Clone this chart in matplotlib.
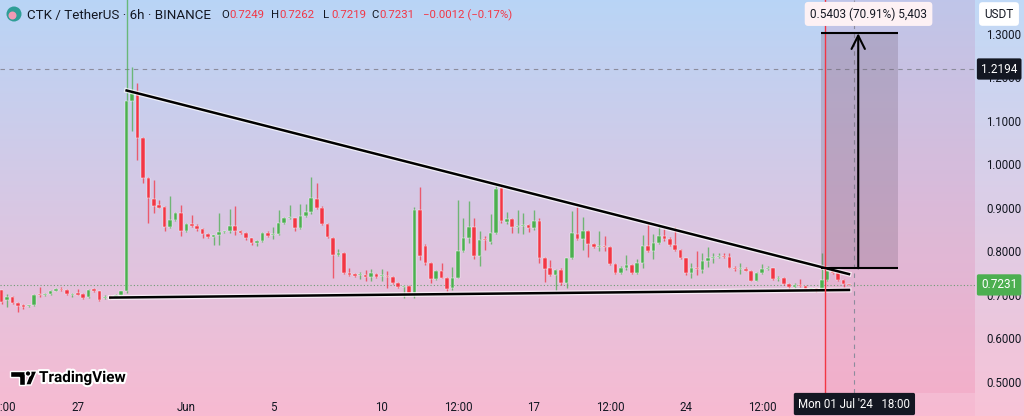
import numpy as np
import matplotlib
matplotlib.use("Agg")
import matplotlib.pyplot as plt
import matplotlib.patheffects as pe
from matplotlib.patches import Rectangle, Ellipse, Polygon
from matplotlib.transforms import blended_transform_factory

plt.rcParams['font.family'] = ['Roboto', 'DejaVu Sans']

# ========================
# 数据 (CTK/USDT 6h, 2024-05-23 12:00 起)
# ========================
opens = [
    0.711, 0.688, 0.696, 0.681, 0.678, 0.674, 0.676, 0.702, 0.700, 0.703,
    0.710, 0.714, 0.711, 0.700, 0.703, 0.702, 0.696, 0.713, 0.708, 0.693,
    0.697, 0.693, 0.701, 0.708, 1.145, 1.164, 1.060, 0.970, 0.921, 0.906,
    0.902, 0.857, 0.872, 0.888, 0.846, 0.863, 0.859, 0.852, 0.840, 0.833,
    0.837, 0.845, 0.846, 0.859, 0.848, 0.842, 0.830, 0.819, 0.825, 0.843,
    0.838, 0.840, 0.865, 0.876, 0.876, 0.853, 0.882, 0.890, 0.921, 0.901,
    0.863, 0.830, 0.792, 0.796, 0.751, 0.748, 0.745, 0.746, 0.742, 0.748,
    0.743, 0.744, 0.741, 0.727, 0.718, 0.721, 0.704, 0.895, 0.812, 0.774,
    0.736, 0.756, 0.740, 0.715, 0.740, 0.801, 0.830, 0.857, 0.790, 0.827,
    0.821, 0.842, 0.945, 0.868, 0.874, 0.857, 0.858, 0.861, 0.853, 0.871,
    0.784, 0.761, 0.746, 0.757, 0.727, 0.784, 0.840, 0.829, 0.848, 0.817,
    0.811, 0.813, 0.810, 0.771, 0.751, 0.763, 0.769, 0.751, 0.773, 0.813,
    0.802, 0.820, 0.836, 0.829, 0.815, 0.803, 0.784, 0.750, 0.762, 0.757,
    0.777, 0.784, 0.787, 0.790, 0.787, 0.763, 0.759, 0.759, 0.756, 0.733,
    0.750, 0.759, 0.761, 0.736, 0.738, 0.725, 0.719, 0.722, 0.721, 0.713,
    0.715, 0.710, 0.734, 0.754, 0.751, 0.734, 0.7249,
]
highs = [
    0.712, 0.703, 0.698, 0.684, 0.680, 0.678, 0.702, 0.719, 0.705, 0.712,
    0.715, 0.719, 0.713, 0.705, 0.714, 0.704, 0.714, 0.716, 0.710, 0.700,
    0.699, 0.703, 0.710, 1.400, 1.224, 1.188, 1.062, 0.972, 0.964, 0.918,
    0.905, 0.928, 0.890, 0.906, 0.865, 0.884, 0.862, 0.855, 0.842, 0.839,
    0.889, 0.848, 0.897, 0.905, 0.850, 0.844, 0.832, 0.827, 0.844, 0.846,
    0.857, 0.895, 0.879, 0.907, 0.878, 0.910, 0.910, 0.972, 0.957, 0.905,
    0.866, 0.833, 0.806, 0.798, 0.763, 0.750, 0.753, 0.757, 0.759, 0.751,
    0.759, 0.754, 0.743, 0.729, 0.723, 0.723, 0.903, 0.949, 0.818, 0.776,
    0.758, 0.774, 0.742, 0.764, 0.918, 0.876, 0.916, 0.876, 0.848, 0.836,
    0.886, 0.953, 0.950, 0.890, 0.877, 0.895, 0.888, 0.864, 0.895, 0.876,
    0.787, 0.780, 0.760, 0.763, 0.786, 0.892, 0.903, 0.880, 0.850, 0.819,
    0.846, 0.836, 0.812, 0.773, 0.766, 0.792, 0.771, 0.782, 0.838, 0.866,
    0.840, 0.859, 0.851, 0.834, 0.857, 0.806, 0.786, 0.773, 0.800, 0.796,
    0.811, 0.796, 0.797, 0.796, 0.796, 0.767, 0.773, 0.765, 0.758, 0.752,
    0.771, 0.767, 0.763, 0.744, 0.741, 0.727, 0.728, 0.736, 0.722, 0.717,
    0.716, 0.796, 0.761, 0.759, 0.753, 0.736, 0.7262,
]
lows = [
    0.680, 0.673, 0.679, 0.662, 0.668, 0.672, 0.674, 0.695, 0.697, 0.701,
    0.709, 0.709, 0.700, 0.696, 0.699, 0.690, 0.694, 0.706, 0.687, 0.690,
    0.691, 0.692, 0.699, 0.705, 1.078, 1.010, 0.957, 0.866, 0.889, 0.899,
    0.846, 0.855, 0.870, 0.836, 0.844, 0.857, 0.848, 0.830, 0.830, 0.815,
    0.814, 0.843, 0.843, 0.838, 0.840, 0.826, 0.816, 0.813, 0.822, 0.834,
    0.828, 0.838, 0.862, 0.874, 0.848, 0.851, 0.880, 0.887, 0.898, 0.860,
    0.831, 0.738, 0.789, 0.749, 0.744, 0.742, 0.736, 0.733, 0.731, 0.739,
    0.731, 0.717, 0.725, 0.716, 0.694, 0.702, 0.694, 0.780, 0.770, 0.727,
    0.734, 0.738, 0.709, 0.712, 0.738, 0.798, 0.819, 0.782, 0.767, 0.804,
    0.818, 0.840, 0.866, 0.864, 0.842, 0.842, 0.840, 0.845, 0.850, 0.774,
    0.730, 0.744, 0.712, 0.723, 0.715, 0.782, 0.826, 0.804, 0.787, 0.809,
    0.800, 0.800, 0.769, 0.749, 0.749, 0.758, 0.749, 0.749, 0.763, 0.799,
    0.782, 0.818, 0.825, 0.812, 0.801, 0.782, 0.747, 0.738, 0.745, 0.750,
    0.765, 0.773, 0.786, 0.784, 0.761, 0.756, 0.748, 0.754, 0.731, 0.731,
    0.748, 0.757, 0.734, 0.731, 0.723, 0.710, 0.715, 0.719, 0.710, 0.711,
    0.706, 0.708, 0.731, 0.748, 0.732, 0.719, 0.7219,
]
closes = [
    0.684, 0.696, 0.681, 0.675, 0.672, 0.676, 0.700, 0.699, 0.702, 0.710,
    0.713, 0.711, 0.702, 0.702, 0.701, 0.694, 0.711, 0.709, 0.689, 0.696,
    0.693, 0.701, 0.708, 1.145, 1.164, 1.060, 0.970, 0.922, 0.905, 0.901,
    0.857, 0.872, 0.888, 0.846, 0.863, 0.859, 0.852, 0.840, 0.833, 0.837,
    0.844, 0.846, 0.859, 0.848, 0.842, 0.830, 0.819, 0.825, 0.842, 0.836,
    0.840, 0.865, 0.876, 0.880, 0.853, 0.882, 0.890, 0.922, 0.900, 0.863,
    0.833, 0.792, 0.796, 0.751, 0.746, 0.744, 0.746, 0.742, 0.750, 0.741,
    0.744, 0.741, 0.727, 0.718, 0.721, 0.704, 0.895, 0.790, 0.774, 0.736,
    0.756, 0.740, 0.714, 0.740, 0.801, 0.830, 0.857, 0.790, 0.826, 0.826,
    0.842, 0.943, 0.869, 0.874, 0.856, 0.858, 0.860, 0.853, 0.871, 0.784,
    0.759, 0.746, 0.757, 0.727, 0.784, 0.842, 0.829, 0.848, 0.817, 0.811,
    0.813, 0.810, 0.771, 0.751, 0.763, 0.769, 0.751, 0.773, 0.813, 0.802,
    0.820, 0.836, 0.829, 0.815, 0.803, 0.784, 0.750, 0.761, 0.760, 0.777,
    0.784, 0.788, 0.790, 0.787, 0.763, 0.759, 0.763, 0.756, 0.733, 0.750,
    0.759, 0.763, 0.737, 0.740, 0.725, 0.719, 0.723, 0.721, 0.713, 0.715,
    0.708, 0.734, 0.754, 0.750, 0.734, 0.725, 0.7231,
]

time_ticks = [0, 14, 34, 50, 70, 84, 98, 112, 126, 140]
time_labels = ["12:00", "27", "Jun", "5", "10", "12:00", "17", "12:00", "24", "12:00"]
price_ticks = [0.5, 0.6, 0.7, 0.8, 0.9, 1.0, 1.1, 1.2, 1.3]

# 三角形趋势线 (candle index, price)
upper_x, upper_y = [23, 156], [1.170, 0.748]
lower_x, lower_y = [20, 156], [0.694, 0.7115]

# 价格区间测量工具
range_x = [150.9, 165.1]
range_low, range_high = 0.7614, 1.3015
range_text = "0.5403 (70.91%) 5,403"

last_price = 0.7231
cross_idx, cross_price = 157, 1.2194
cross_label = "Mon 01 Jul '24   18:00"
vline_idx = 151.5

UP, DOWN = "#4caf50", "#f23645"
TXT = "#131722"


def fx(px):
    return px / 1024


def fy(py):
    return 1 - py / 416


def fig_circle(fig, px, py, r, **kw):
    # 圆在 figure 坐标中需要按宽高分别缩放
    e = Ellipse((fx(px), fy(py)), 2 * r / 1024, 2 * r / 416, transform=fig.transFigure, **kw)
    fig.add_artist(e)


def draw_background(fig):
    bg = fig.add_axes([0, 0, 1, 1], zorder=-10)
    top = np.array([0.725, 0.835, 0.965])
    bot = np.array([0.970, 0.730, 0.820])
    t = np.linspace(0, 1, 256)[:, None]
    grad = top[None, :] * (1 - t) + bot[None, :] * t
    bg.imshow(grad[:, None, :], aspect="auto", extent=[0, 1, 0, 1])
    bg.set_xlim(0, 1)
    bg.set_ylim(0, 1)
    bg.axis("off")
    # 右侧价格轴区域稍浅
    bg.add_patch(Rectangle((fx(975), 0), 1 - fx(975), 1, color="white", alpha=0.12, lw=0))


def draw_candles(ax):
    o, h, l, c = map(np.array, (opens, highs, lows, closes))
    x = np.arange(len(o))
    colors = np.where(c >= o, UP, DOWN)
    ax.vlines(x, l, h, colors=colors, lw=1.0, alpha=0.75, zorder=3)
    body = np.maximum(np.abs(c - o), 0.0025)
    ax.bar(x, body, bottom=np.minimum(o, c), width=0.66, color=colors,
           edgecolor="white", linewidth=0.3, zorder=4)


def main():
    fig = plt.figure(figsize=(10.24, 4.16), dpi=100)
    draw_background(fig)

    ax = fig.add_axes([0, fy(393), fx(975), 1 - fy(393)], zorder=1)
    ax.set_facecolor("none")
    ax.set_xlim(-0.31, 179.2)
    ax.set_ylim(0.4747, 1.378)
    for s in ax.spines.values():
        s.set_visible(False)

    # 选中区域
    ax.axvspan(vline_idx, 179.2, color="#f06292", alpha=0.13, lw=0, zorder=0)
    ax.axvline(vline_idx, color=DOWN, lw=1.0, zorder=6)

    # 十字光标与现价线
    ax.axhline(cross_price, color="#8c8c9c", lw=0.8, ls=(0, (4, 4)), zorder=2)
    ax.axvline(cross_idx, color="#8c8c9c", lw=0.8, ls=(0, (4, 4)), zorder=2)
    ax.axhline(last_price, color="#6f9c74", lw=0.8, ls=(0, (1, 2)), zorder=2)

    draw_candles(ax)

    # 趋势线
    halo = [pe.withStroke(linewidth=3.6, foreground="white", alpha=0.7)]
    ax.plot(upper_x, upper_y, color="black", lw=1.8, path_effects=halo, zorder=5)
    ax.plot(lower_x, lower_y, color="black", lw=1.8, path_effects=halo, zorder=5)

    # 价格区间
    ax.add_patch(Rectangle((range_x[0], range_low), range_x[1] - range_x[0],
                           range_high - range_low, fc="#6e5a72", alpha=0.25, lw=0, zorder=5))
    ax.hlines([range_low, range_high], range_x[0], range_x[1], color="black", lw=1.5, zorder=6)
    ax.annotate("", xy=(157.7, range_high), xytext=(157.7, range_low),
                arrowprops=dict(arrowstyle="->", lw=1.5, color="black", mutation_scale=24,
                                shrinkA=0, shrinkB=0), zorder=6)
    ax.text(159.6, 1.346, range_text, ha="center", va="center", fontsize=8.5, color=TXT,
            zorder=7, bbox=dict(boxstyle="round,pad=0.45,rounding_size=0.3",
                                fc="#fdf1f4", ec="none"))

    # 坐标轴
    ax.set_xticks(time_ticks, time_labels)
    ax.set_yticks(price_ticks, [f"{p:.4f}" for p in price_ticks])
    ax.yaxis.tick_right()
    ax.tick_params(axis="x", length=0, pad=6, labelsize=8.3, labelcolor=TXT)
    ax.tick_params(axis="y", length=0, pad=8, labelsize=8.3, labelcolor=TXT)

    yt = blended_transform_factory(ax.transAxes, ax.transData)
    ax.text(1.0 + 6 / 975, cross_price, "1.2194", transform=yt, ha="left", va="center",
            fontsize=8.5, color="white", zorder=8, clip_on=False,
            bbox=dict(boxstyle="round,pad=0.35,rounding_size=0.15", fc=TXT, ec="none"))
    ax.text(1.0 + 6 / 975, last_price, "0.7231", transform=yt, ha="left", va="center",
            fontsize=8.5, color="white", zorder=8, clip_on=False,
            bbox=dict(boxstyle="round,pad=0.35,rounding_size=0.15", fc=UP, ec="none"))
    xt = blended_transform_factory(ax.transData, ax.transAxes)
    ax.text(cross_idx, -11 / 393, cross_label, transform=xt, ha="center", va="center",
            fontsize=8.3, color="white", zorder=8, clip_on=False,
            bbox=dict(boxstyle="round,pad=0.4,rounding_size=0.15", fc=TXT, ec="none"))

    fig.text(fx(999), fy(14), "USDT", ha="center", va="center", fontsize=8.5, color=TXT,
             bbox=dict(boxstyle="round,pad=0.45,rounding_size=0.3", fc="white", ec="none"))

    # 标题栏
    fig_circle(fig, 14, 14, 7.5, fc="#2f9e96", ec="none")
    fig_circle(fig, 12.5, 15.5, 4, fc="#f29ab4", ec="none")
    fig.text(fx(27), fy(15), "CTK / TetherUS · 6h · BINANCE", ha="left", va="center",
             fontsize=9.6, color=TXT)
    ohlc = [("O", "0.7249", 221), ("H", "0.7262", 271.5), ("L", "0.7219", 323), ("C", "0.7231", 371.5)]
    for k, v, px in ohlc:
        fig.text(fx(px), fy(15), k, ha="left", va="center", fontsize=8.2, color=TXT)
        fig.text(fx(px + 8), fy(15), v, ha="left", va="center", fontsize=8.2, color=DOWN)
    fig.text(fx(423), fy(15), "−0.0012 (−0.17%)", ha="left", va="center", fontsize=8.2, color=DOWN)

    # TradingView 标志
    white = [pe.withStroke(linewidth=3, foreground="white")]
    tv_t = Polygon([(fx(10), fy(371)), (fx(25), fy(371)), (fx(25), fy(385)), (fx(19), fy(385)),
                    (fx(19), fy(377)), (fx(10), fy(377))], closed=True,
                   transform=fig.transFigure, fc="black", ec="white", lw=1)
    tv_s = Polygon([(fx(31), fy(371)), (fx(37), fy(371)), (fx(31), fy(385)), (fx(25.5), fy(385))],
                   closed=True, transform=fig.transFigure, fc="black", ec="white", lw=1)
    for p in (tv_t, tv_s):
        fig.add_artist(p)
    fig_circle(fig, 28, 373.5, 2.8, fc="black", ec="white", lw=1)
    fig.text(fx(39), fy(378), "TradingView", ha="left", va="center", fontsize=11,
             fontweight="bold", color="black", path_effects=white)

    fig.savefig("out.png", dpi=100)
    plt.close(fig)


if __name__ == "__main__":
    main()
